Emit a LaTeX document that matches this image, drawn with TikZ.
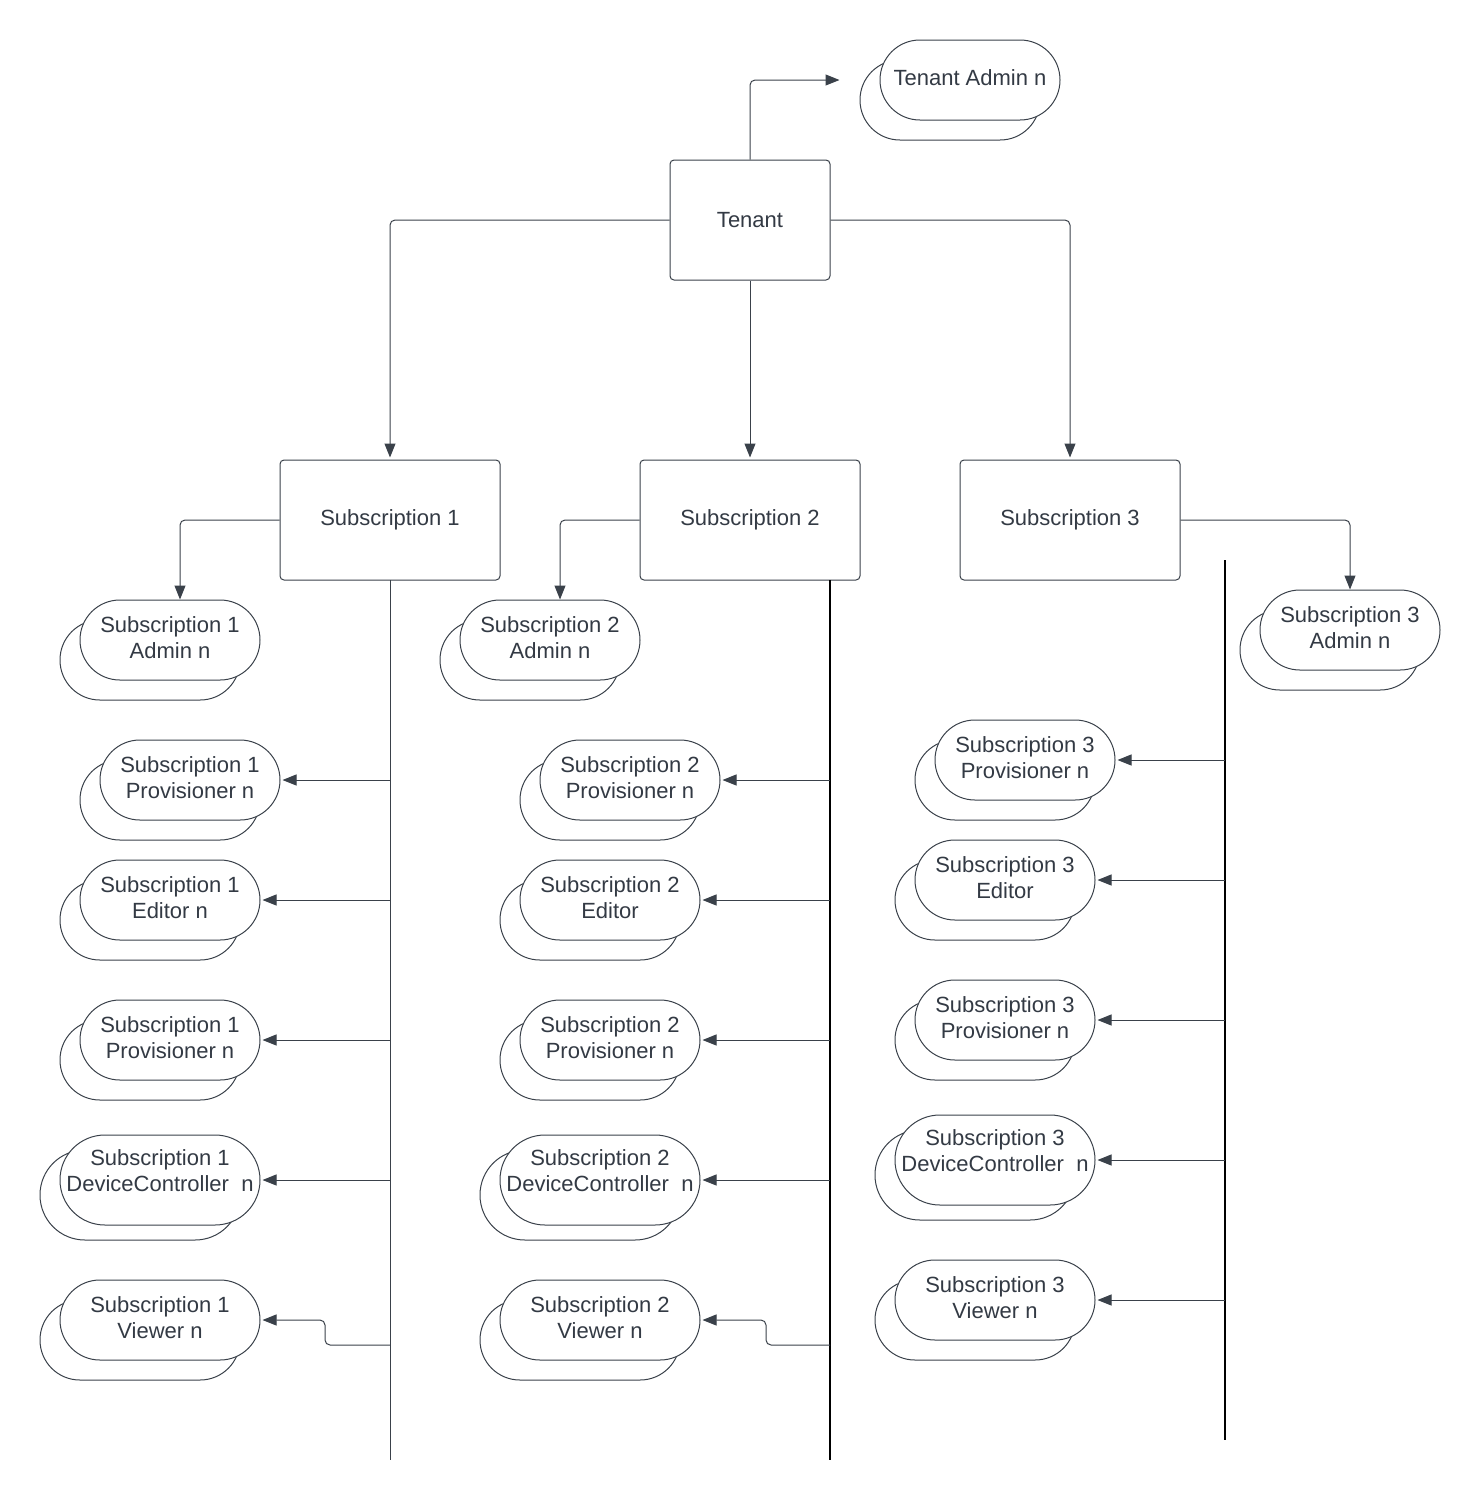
\documentclass[tikz,border=0pt]{standalone}
\usepackage{fontspec}
\setmainfont{Liberation Sans}
\usepackage{tikz}
\usetikzlibrary{arrows.meta, shadows}

\definecolor{edge}{HTML}{3A414A}
\definecolor{ink}{HTML}{333A44}
\newcommand{\lblfont}{\fontsize{22}{26}\selectfont}

\begin{document}
\begin{tikzpicture}[
    x=1pt, y=-1pt,
    box/.style={rectangle, draw=edge, line width=1pt, rounded corners=4pt, fill=white,
                minimum width=220pt, minimum height=120pt, font=\lblfont, text=ink},
    pill/.style={rectangle, draw=edge, line width=1pt, fill=white, rounded corners=39.9pt,
                 minimum width=180pt, minimum height=80pt, inner xsep=0pt, align=center,
                 font=\lblfont, text=ink, text depth=4pt,
                 general shadow={shadow xshift=-20pt, shadow yshift=-20pt, fill=white,
                                 draw=edge, line width=1pt}},
    widepill/.style={rectangle, draw=edge, line width=1pt, fill=white, rounded corners=44.9pt,
                 minimum width=200pt, minimum height=90pt, inner xsep=0pt, align=center,
                 font=\lblfont, text=ink, text depth=18pt,
                 general shadow={shadow xshift=-20pt, shadow yshift=-15pt, fill=white,
                                 draw=edge, line width=1pt}},
    arr/.style={-{Triangle[length=14pt, width=11pt]}, draw=edge, line width=1pt,
                rounded corners=5pt, shorten >=2pt},
    bus/.style={draw=black, line width=2pt}
]
\useasboundingbox (0,0) rectangle (1480,1500);

\node[box, minimum width=160pt] (tenant) at (750,220) {Tenant};
\node[pill] (tadmin) at (970,80) {Tenant Admin n};

\node[box] (sub1) at (390,520) {Subscription 1};
\node[box] (sub2) at (750,520) {Subscription 2};
\node[box] (sub3) at (1070,520) {Subscription 3};

% subscription 1
\node[pill] (adm1) at (170,640) {Subscription 1\\Admin n};
\node[pill] (prov1) at (190,780) {Subscription 1\\Provisioner n};
\node[pill] (edit1) at (170,900) {Subscription 1\\Editor n};
\node[pill] (provb1) at (170,1040) {Subscription 1\\Provisioner n};
\node[widepill] (dev1) at (160,1180) {Subscription 1\\DeviceController\ \ n};
\node[pill, minimum width=200pt] (view1) at (160,1320) {Subscription 1\\Viewer n};

% subscription 2
\node[pill] (adm2) at (550,640) {Subscription 2\\Admin n};
\node[pill] (prov2) at (630,780) {Subscription 2\\Provisioner n};
\node[pill] (edit2) at (610,900) {Subscription 2\\Editor};
\node[pill] (provb2) at (610,1040) {Subscription 2\\Provisioner n};
\node[widepill] (dev2) at (600,1180) {Subscription 2\\DeviceController\ \ n};
\node[pill, minimum width=200pt] (view2) at (600,1320) {Subscription 2\\Viewer n};

% subscription 3
\node[pill] (adm3) at (1350,630) {Subscription 3\\Admin n};
\node[pill] (prov3) at (1025,760) {Subscription 3\\Provisioner n};
\node[pill] (edit3) at (1005,880) {Subscription 3\\Editor};
\node[pill] (provb3) at (1005,1020) {Subscription 3\\Provisioner n};
\node[widepill] (dev3) at (995,1160) {Subscription 3\\DeviceController\ \ n};
\node[pill, minimum width=200pt] (view3) at (995,1300) {Subscription 3\\Viewer n};

\coordinate (bus1top) at (390,580);
\coordinate (bus1end) at (390,1460);
\coordinate (bus2top) at (830,580);
\coordinate (bus2end) at (830,1460);
\coordinate (bus3top) at (1225,560);
\coordinate (bus3end) at (1225,1440);
\coordinate (v1tap) at (390,1345);
\coordinate (v2tap) at (830,1345);

\draw[arr, shorten >=40pt] (tenant.north) |- (tadmin.west);
\draw[arr] (tenant.west) -| (sub1.north);
\draw[arr] (tenant.south) -- (sub2.north);
\draw[arr] (tenant.east) -| (sub3.north);

\draw[arr, shorten >=0pt] (sub1.west) -| ([xshift=10pt]adm1.north);
\draw[arr, shorten >=0pt] (sub2.west) -| ([xshift=10pt]adm2.north);
\draw[arr, shorten >=0pt] (sub3.east) -| (adm3.north);

\draw[draw=edge, line width=1pt] (bus1top) -- (bus1end);
\draw[bus] (bus2top) -- (bus2end);
\draw[bus, line width=2.4pt] (bus3top) -- (bus3end);

\draw[arr] (bus1top |- prov1.east) -- (prov1.east);
\draw[arr] (bus1top |- edit1.east) -- (edit1.east);
\draw[arr] (bus1top |- provb1.east) -- (provb1.east);
\draw[arr] (bus1top |- dev1.east) -- (dev1.east);
\draw[arr] (v1tap) -| ++(-65,-25) -- (view1.east);

\draw[arr] (bus2top |- prov2.east) -- (prov2.east);
\draw[arr] (bus2top |- edit2.east) -- (edit2.east);
\draw[arr] (bus2top |- provb2.east) -- (provb2.east);
\draw[arr] (bus2top |- dev2.east) -- (dev2.east);
\draw[arr] (v2tap) -| ++(-64,-25) -- (view2.east);

\draw[arr] (bus3top |- prov3.east) -- (prov3.east);
\draw[arr] (bus3top |- edit3.east) -- (edit3.east);
\draw[arr] (bus3top |- provb3.east) -- (provb3.east);
\draw[arr] (bus3top |- dev3.east) -- (dev3.east);
\draw[arr] (bus3top |- view3.east) -- (view3.east);
\end{tikzpicture}
\end{document}
